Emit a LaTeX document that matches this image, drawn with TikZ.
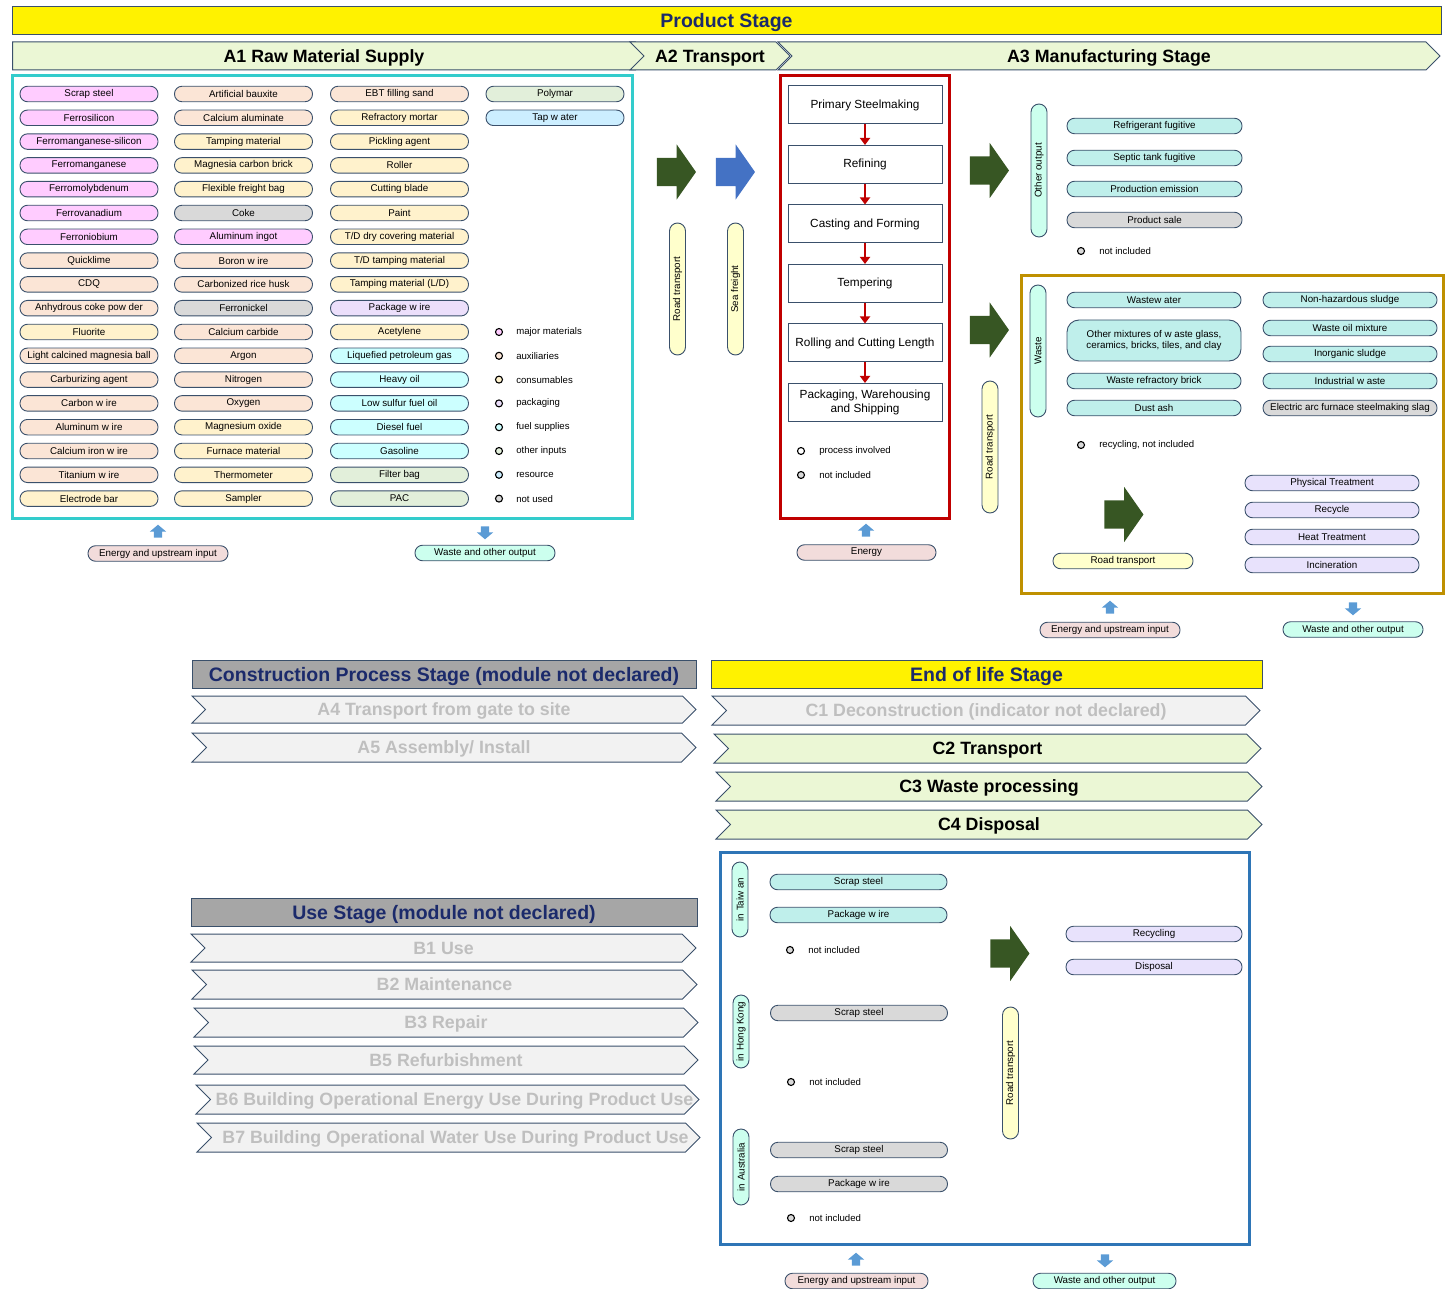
\documentclass[tikz,border=0pt]{standalone}
\usepackage{fontspec}
\setmainfont{Liberation Sans}
\usepackage{tikz}
\usetikzlibrary{positioning,shapes.arrows,shapes.symbols,arrows.meta}
\definecolor{cMaj}{HTML}{FFCCFF}
\definecolor{cAux}{HTML}{FBE5D6}
\definecolor{cCon}{HTML}{FFF2CC}
\definecolor{cPack}{HTML}{ECDFFB}
\definecolor{cFuel}{HTML}{CCFFFF}
\definecolor{cOth}{HTML}{E2EFDA}
\definecolor{cRes}{HTML}{CCEEFF}
\definecolor{cNot}{HTML}{D9D9D9}
\definecolor{cOut}{HTML}{BFEFEB}
\definecolor{cMint}{HTML}{CCFFEE}
\definecolor{cLav}{HTML}{E8E2FC}
\definecolor{cEnergy}{HTML}{F2DCDB}
\definecolor{cTrans}{HTML}{FFFFCC}
\definecolor{cChevOn}{HTML}{EBF7D5}
\definecolor{cChevOff}{HTML}{F2F2F2}
\definecolor{cTxtOff}{HTML}{BFBFBF}
\definecolor{cNavy}{HTML}{1B2A6B}
\definecolor{cEdge}{HTML}{3A506B}
\definecolor{cGreenArr}{HTML}{375623}
\definecolor{cBlueArr}{HTML}{4472C4}
\definecolor{cSmallArr}{HTML}{5B9BD5}
\definecolor{cFrameA}{HTML}{33CCCC}
\definecolor{cFrameR}{HTML}{C00000}
\definecolor{cFrameG}{HTML}{BF9000}
\definecolor{cFrameB}{HTML}{2E75B6}
\definecolor{cStageGray}{HTML}{A6A6A6}
\tikzset{
  pill/.style     = {draw=cEdge, line width=0.9pt, rounded corners=7.5pt, minimum height=15.5pt,
                     inner sep=0pt, align=center, font=\fontsize{9.8}{11}\selectfont},
  a1pill/.style   = {pill, minimum width=138pt},
  vpill/.style    = {pill, rotate=90, minimum height=16pt, rounded corners=8pt},
  procbox/.style  = {draw=cEdge, line width=1pt, fill=white, minimum width=154pt, minimum height=38pt,
                     align=center, inner sep=0pt, font=\fontsize{11.8}{13.8}\selectfont},
  procarrow/.style= {-{Triangle[width=10pt,length=7pt]}, line width=2.5pt, draw=cFrameR},
  stagebar/.style = {draw=cEdge, line width=1pt, minimum height=28pt, inner sep=0pt,
                     text height=14pt, text depth=0pt,
                     text=cNavy, font=\fontsize{19.5}{21}\bfseries\selectfont},
  chevron/.style  = {signal, signal to=east, signal from=west, draw=cEdge, line width=1pt,
                     inner sep=0pt, minimum height=28pt, text height=12.8pt, text depth=0pt,
                     font=\fontsize{17.8}{20}\bfseries\selectfont},
  chevon/.style   = {chevron, fill=cChevOn, text=black},
  chevoff/.style  = {chevron, fill=cChevOff, text=cTxtOff},
  bigarrow/.style = {single arrow, draw=none, fill=cGreenArr, minimum height=39pt,
                     inner xsep=0pt, inner ysep=14pt, single arrow head extend=13.5pt,
                     single arrow tip angle=110},
  smallarrow/.style = {single arrow, draw=none, fill=cSmallArr, minimum height=13pt,
                     inner xsep=0pt, inner ysep=4pt, single arrow head extend=4pt,
                     single arrow tip angle=100},
  legdot/.style   = {circle, draw=black, line width=1.1pt, minimum size=7pt, inner sep=0pt},
  legtext/.style  = {anchor=west, inner sep=0pt, font=\fontsize{9.6}{11}\selectfont},
  frame/.style    = {draw, line width=3pt, inner sep=0pt}
}
\begin{document}
\begin{tikzpicture}[x=1pt,y=-1pt,node distance=20.5pt]
\useasboundingbox (0,0) rectangle (1449,1289);

% product stage headers
\node[stagebar, fill=yellow, minimum width=1429pt] (prod) at (726.5,21) {Product Stage};
\node[chevon, signal from=nowhere, minimum width=637pt] (a1) at (324,56) {A1 Raw Material Supply};
\node[chevon, minimum width=160pt] (a2) at (710,56) {A2 Transport};
\node[chevon, minimum width=662pt] (a3) at (1109,56) {A3 Manufacturing Stage};

% frames
\node[frame, draw=cFrameA, minimum width=620pt, minimum height=442pt] (a1box) at (322,297) {};
\node[frame, draw=cFrameR, minimum width=169pt, minimum height=442pt] (a3box) at (864.5,297) {};
\node[frame, draw=cFrameG, minimum width=422pt, minimum height=317pt] (wbox) at (1232,434.5) {};
\node[frame, draw=cFrameB, minimum width=529pt, minimum height=392pt] (cbox) at (984.5,1048) {};

% A1 raw materials
\foreach \t/\c [count=\i] in {Scrap steel/cMaj, Ferrosilicon/cMaj, Ferromanganese-silicon/cMaj,
    Ferromanganese/cMaj, Ferromolybdenum/cMaj, Ferrovanadium/cMaj, Ferroniobium/cMaj, Quicklime/cAux,
    CDQ/cAux, Anhydrous coke pow der/cAux, Fluorite/cCon, Light calcined magnesia ball/cAux,
    Carburizing agent/cAux, Carbon w ire/cAux, Aluminum w ire/cAux, Calcium iron w ire/cAux,
    Titanium w ire/cAux, Electrode bar/cCon}
  \node[a1pill, fill=\c] (ca\i) at (89,{94+(\i-1)*23.8}) {\t};
\foreach \t/\c [count=\i] in {Artificial bauxite/cAux, Calcium aluminate/cAux, Tamping material/cCon,
    Magnesia carbon brick/cCon, Flexible freight bag/cCon, Coke/cNot, Aluminum ingot/cMaj,
    Boron w ire/cAux, Carbonized rice husk/cAux, Ferronickel/cNot, Calcium carbide/cAux, Argon/cAux,
    Nitrogen/cAux, Oxygen/cAux, Magnesium oxide/cCon, Furnace material/cCon, Thermometer/cCon,
    Sampler/cCon}
  \node[a1pill, fill=\c] (cb\i) at (243.5,{94+(\i-1)*23.8}) {\t};
\foreach \t/\c [count=\i] in {EBT filling sand/cAux, Refractory mortar/cCon, Pickling agent/cCon,
    Roller/cCon, Cutting blade/cCon, Paint/cCon, {T/D dry covering material}/cCon,
    {T/D tamping material}/cCon, {Tamping material (L/D)}/cCon, Package w ire/cPack, Acetylene/cCon,
    Liquefied petroleum gas/cFuel, Heavy oil/cFuel, Low  sulfur fuel oil/cFuel, Diesel fuel/cFuel,
    Gasoline/cFuel, Filter bag/cOth, PAC/cOth}
  \node[a1pill, fill=\c] (cc\i) at (399.5,{94+(\i-1)*23.8}) {\t};
\node[a1pill, fill=cOth] (cd1) at (555,94) {Polymar};
\node[a1pill, fill=cRes] (cd2) at (555,117.8) {Tap w ater};

% A1 legend
\foreach \t/\c [count=\i] in {major materials/cMaj, auxiliaries/cAux, consumables/cCon, packaging/cPack,
    fuel supplies/cFuel, other inputs/cOth, resource/cRes, not used/cNot} {
  \node[legdot, fill=\c] (ld\i) at (499,{332+(\i-1)*23.8}) {};
  \node[legtext, right=13pt of ld\i] (lt\i) {\t};
}

\node[smallarrow, rotate=90] (a1in) at (158,533) {};
\node[pill, fill=cEnergy, minimum width=140pt] (a1inp) at (158,553.5) {Energy and upstream input};
\node[smallarrow, rotate=-90] (a1out) at (485,531) {};
\node[pill, fill=cMint, minimum width=140pt] (a1outp) at (485,553) {Waste and other output};

% A2 transport
\node[bigarrow] (road) at (671.5,172) {};
\node[bigarrow, fill=cBlueArr] (sea) at (730.5,172) {};
\node[vpill, fill=cTrans, minimum width=132pt] (roadlbl) at (677.5,289) {Road transport};
\node[vpill, fill=cTrans, minimum width=132pt] (sealbl) at (735.5,289) {Sea freight};

% A3 process chain
\node[procbox] (ps) at (865,105) {Primary Steelmaking};
\node[procbox, below=of ps] (rf) {Refining};
\node[procbox, below=of rf] (cf) {Casting and Forming};
\node[procbox, below=of cf] (tp) {Tempering};
\node[procbox, below=of tp] (rc) {Rolling and Cutting Length};
\node[procbox, below=of rc] (pw) {Packaging, Warehousing\\and Shipping};
\foreach \a/\b in {ps/rf, rf/cf, cf/tp, tp/rc, rc/pw}
  \draw[procarrow] (\a) -- (\b);
\node[legdot, fill=white] (pd1) at (801,451) {};
\node[legtext, right=14pt of pd1] (pt1) {process involved};
\node[legdot, fill=cNot] (pd2) at (801,475) {};
\node[legtext, right=14pt of pd2] (pt2) {not included};
\node[smallarrow, rotate=90] (a3in) at (866,532) {};
\node[pill, fill=cEnergy, minimum width=139pt] (a3inp) at (866.5,552.5) {Energy};

% A3 other output
\node[bigarrow] (outarr) at (984.5,170.5) {};
\node[vpill, fill=cMint, minimum width=133pt] (othlbl) at (1039,170.5) {Other output};
\foreach \t/\c/\y in {Refrigerant fugitive/cOut/126, Septic tank fugitive/cOut/158,
    Production emission/cOut/189, Product sale/cNot/220}
  \node[pill, fill=\c, minimum width=175pt] (o\y) at (1154.5,\y) {\t};
\node[legdot, fill=cNot] (od) at (1081,251) {};
\node[legtext, right=14pt of od] (ot) {not included};

% A3 waste
\node[bigarrow] (wastearr) at (984.5,330) {};
\node[vpill, fill=cTrans, minimum width=132pt] (wroad) at (990,447) {Road transport};
\node[vpill, fill=cMint, minimum width=132pt] (wlbl) at (1038,351) {Waste};
\node[pill, fill=cOut, minimum width=174pt] (w1) at (1154,300) {Wastew ater};
\node[pill, fill=cOut, minimum width=174pt, minimum height=41pt, rounded corners=12pt] (w2) at (1154,340.5)
  {Other mixtures of w aste glass,\\ceramics, bricks, tiles, and clay};
\node[pill, fill=cOut, minimum width=174pt] (w3) at (1154,381) {Waste refractory brick};
\node[pill, fill=cOut, minimum width=174pt] (w4) at (1154,408) {Dust ash};
\foreach \t/\c/\y in {Non-hazardous sludge/cOut/300, Waste oil mixture/cOut/328, Inorganic sludge/cOut/354,
    Industrial w aste/cOut/381, Electric arc furnace steelmaking slag/cNot/408}
  \node[pill, fill=\c, minimum width=174pt] (r\y) at (1350,\y) {\t};
\node[legdot, fill=cNot] (wd) at (1081,445) {};
\node[legtext, right=14pt of wd] (wt) {recycling, not included};
\node[bigarrow] (wtarr) at (1119,514.5) {};
\node[pill, fill=cTrans, minimum width=140pt] (wtroad) at (1123,561) {Road transport};
\foreach \t/\y in {Physical Treatment/483, Recycle/510, Heat Treatment/537, Incineration/565}
  \node[pill, fill=cLav, minimum width=174pt] (t\y) at (1332,\y) {\t};
\node[smallarrow, rotate=90] (win) at (1110,609) {};
\node[pill, fill=cEnergy, minimum width=140pt] (winp) at (1110,630) {Energy and upstream input};
\node[smallarrow, rotate=-90] (wout) at (1353,607) {};
\node[pill, fill=cMint, minimum width=140pt] (woutp) at (1353,629.5) {Waste and other output};

% construction process stage
\node[stagebar, fill=cStageGray, minimum width=504pt] (cons) at (444,674) {Construction Process Stage (module not declared)};
\node[chevoff, minimum width=504pt, minimum height=27pt] (a4) at (444,709.5) {A4 Transport from gate to site};
\node[chevoff, minimum width=504pt, minimum height=29pt] (a5) at (444,747.5) {A5 Assembly/ Install};

% use stage
\node[stagebar, fill=cStageGray, minimum width=506pt] (use) at (444,912) {Use Stage (module not declared)};
\node[chevoff, minimum width=505pt] (b1) at (443.5,948) {B1 Use};
\node[chevoff, minimum width=505pt, minimum height=29pt] (b2) at (444.5,984.5) {B2 Maintenance};
\node[chevoff, minimum width=504pt, minimum height=29pt] (b3) at (446,1022.5) {B3 Repair};
\node[chevoff, minimum width=504pt] (b5) at (446,1060) {B5 Refurbishment};
\node[chevoff, minimum width=503pt, minimum height=29pt] (b6) at (447.5,1099.5)
  {\makebox[440pt]{\hspace*{14pt}B6 Building Operational Energy Use During Product Use}};
\node[chevoff, minimum width=503pt, minimum height=29pt] (b7) at (448.5,1137.5)
  {\makebox[440pt]{\hspace*{14pt}B7 Building Operational Water Use During Product Use}};

% end of life stage
\node[stagebar, fill=yellow, minimum width=551pt] (eol) at (986.5,674) {End of life Stage};
\node[chevoff, minimum width=548pt, minimum height=29pt] (c1) at (986,710.5) {C1 Deconstruction (indicator not declared)};
\node[chevon, minimum width=547pt, minimum height=29pt] (c2) at (987.5,748.5) {C2 Transport};
\node[chevon, minimum width=546pt, minimum height=29pt] (c3) at (989,786.5) {C3 Waste processing};
\node[chevon, minimum width=546pt, minimum height=29pt] (c4) at (989,824.5) {C4 Disposal};

% end of life contents
\node[vpill, fill=cMint, minimum width=75pt] (tw) at (740,899.5) {in Taiw an};
\node[pill, fill=cOut, minimum width=177pt] (tw1) at (858.5,882) {Scrap steel};
\node[pill, fill=cOut, minimum width=177pt] (tw2) at (858.5,915) {Package w ire};
\node[legdot, fill=cNot] (twd) at (790,950) {};
\node[legtext, right=14pt of twd] (twt) {not included};
\node[vpill, fill=cMint, minimum width=73pt] (hk) at (741,1031.5) {in Hong Kong};
\node[pill, fill=cNot, minimum width=177pt] (hk1) at (859,1013) {Scrap steel};
\node[legdot, fill=cNot] (hkd) at (791,1082) {};
\node[legtext, right=14pt of hkd] (hkt) {not included};
\node[vpill, fill=cMint, minimum width=76pt] (au) at (741,1167) {in Australia};
\node[pill, fill=cNot, minimum width=177pt] (au1) at (859,1150) {Scrap steel};
\node[pill, fill=cNot, minimum width=177pt] (au2) at (859,1184) {Package w ire};
\node[legdot, fill=cNot] (aud) at (791,1218) {};
\node[legtext, right=14pt of aud] (aut) {not included};
\node[bigarrow] (eolarr) at (1005,953.5) {};
\node[vpill, fill=cTrans, minimum width=132pt] (eolroad) at (1010.5,1073) {Road transport};
\node[pill, fill=cLav, minimum width=176pt] (rec) at (1154,934) {Recycling};
\node[pill, fill=cLav, minimum width=176pt] (dis) at (1154,967) {Disposal};
\node[smallarrow, rotate=90] (cin) at (856,1261) {};
\node[pill, fill=cEnergy, minimum width=143pt] (cinp) at (856.5,1281) {Energy and upstream input};
\node[smallarrow, rotate=-90] (cout) at (1105,1259) {};
\node[pill, fill=cMint, minimum width=143pt] (coutp) at (1104.5,1281) {Waste and other output};
\end{tikzpicture}
\end{document}
